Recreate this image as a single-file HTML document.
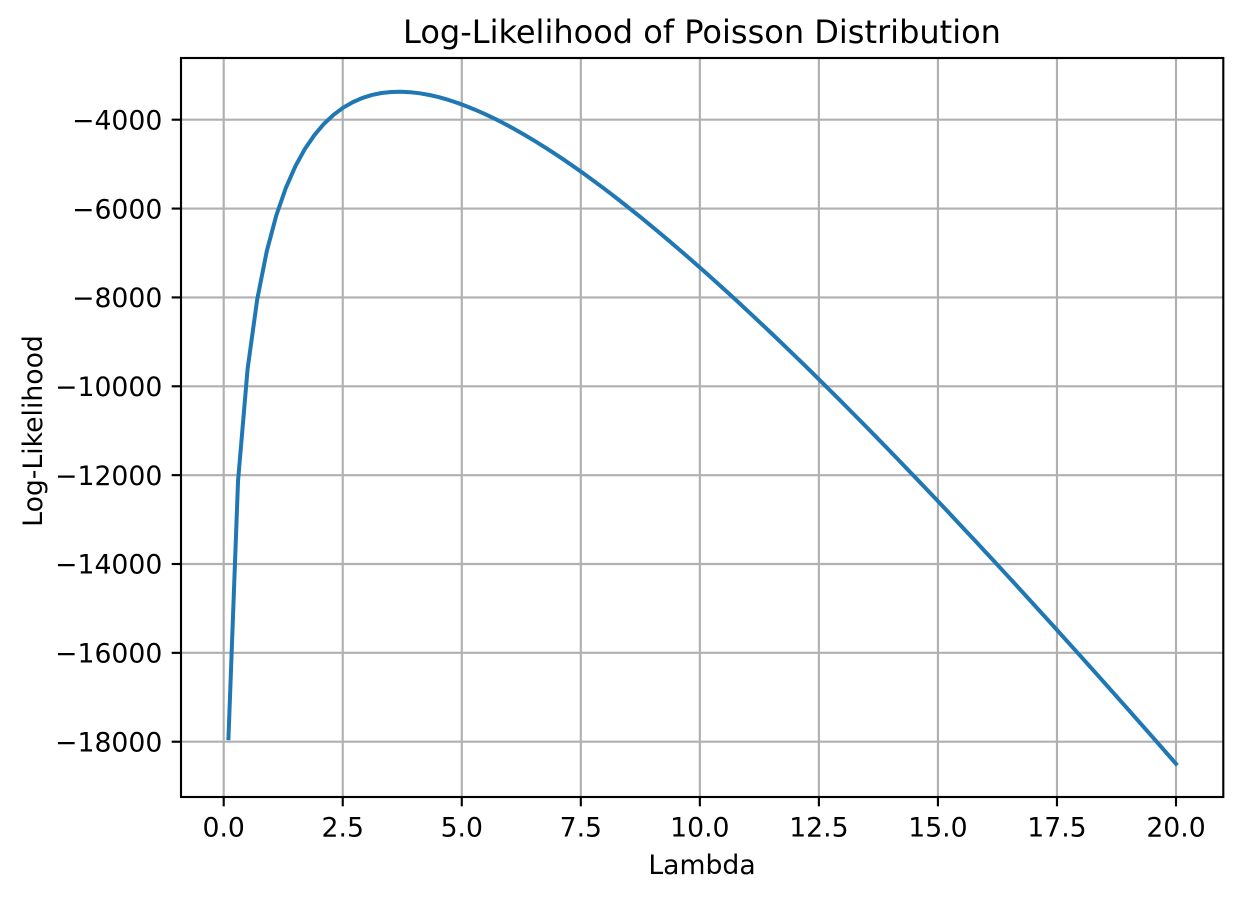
<!DOCTYPE html>
<html>
<head>
<meta charset="utf-8">
<title>Log-Likelihood of Poisson Distribution</title>
<style>
html,body{margin:0;padding:0;background:#fff;}
svg{display:block;}
text{font-family:"DejaVu Sans",sans-serif;fill:#000;}
</style>
</head>
<body>
<svg id="chart" xmlns="http://www.w3.org/2000/svg" width="1242" height="898" viewBox="0 0 1242 898">
<rect x="0" y="0" width="1242" height="898" fill="#ffffff"/>
<g id="grid"></g>
<path id="line" fill="none" stroke="#1f77b4" stroke-width="4" stroke-linejoin="round" stroke-linecap="square"/>
<rect x="181" y="58" width="1042.3" height="739" fill="none" stroke="#000" stroke-width="2.13"/>
<g id="ticks"></g>
<text x="702" y="43" font-size="32" text-anchor="middle">Log-Likelihood of Poisson Distribution</text>
<text x="702" y="874" font-size="26.67" text-anchor="middle">Lambda</text>
<text x="0" y="0" font-size="26.67" text-anchor="middle" transform="translate(42 431) rotate(-90)">Log-Likelihood</text>
</svg>
<script>
const lambdaValues = [0.1,0.301,0.502,0.703,0.904,1.105,1.306,1.507,1.708,1.909,2.11,2.311,2.512,2.713,2.914,3.115,3.316,3.517,3.718,3.919,4.12,4.321,4.522,4.723,4.924,5.125,5.326,5.527,5.728,5.929,6.13,6.331,6.532,6.733,6.934,7.135,7.336,7.537,7.738,7.939,8.14,8.341,8.542,8.743,8.944,9.145,9.346,9.547,9.748,9.949,10.151,10.352,10.553,10.754,10.955,11.156,11.357,11.558,11.759,11.96,12.161,12.362,12.563,12.764,12.965,13.166,13.367,13.568,13.769,13.97,14.171,14.372,14.573,14.774,14.975,15.176,15.377,15.578,15.779,15.98,16.181,16.382,16.583,16.784,16.985,17.186,17.387,17.588,17.789,17.99,18.191,18.392,18.593,18.794,18.995,19.196,19.397,19.598,19.799,20];
const logLikelihoodValues = [-17920,-12133,-9609,-8050,-6962,-6154,-5532,-5043,-4653,-4340,-4088,-3887,-3727,-3604,-3510,-3443,-3399,-3376,-3370,-3381,-3406,-3444,-3494,-3556,-3627,-3708,-3797,-3893,-3998,-4108,-4226,-4349,-4478,-4612,-4751,-4895,-5043,-5195,-5351,-5511,-5674,-5841,-6011,-6184,-6360,-6539,-6720,-6904,-7090,-7279,-7470,-7663,-7858,-8055,-8255,-8456,-8659,-8863,-9070,-9278,-9487,-9698,-9910,-10124,-10339,-10556,-10773,-10993,-11213,-11434,-11657,-11881,-12105,-12332,-12558,-12786,-13015,-13245,-13475,-13707,-13939,-14173,-14406,-14642,-14877,-15114,-15351,-15589,-15827,-16067,-16307,-16548,-16789,-17032,-17274,-17518,-17761,-18006,-18251,-18497];
const xTickValues = [0,2.5,5,7.5,10,12.5,15,17.5,20];
const xTickLabels = ["0.0","2.5","5.0","7.5","10.0","12.5","15.0","17.5","20.0"];
const yTickValues = [-4000,-6000,-8000,-10000,-12000,-14000,-16000,-18000];
const yTickLabels = ["\u22124000","\u22126000","\u22128000","\u221210000","\u221212000","\u221214000","\u221216000","\u221218000"];

const SVG_NS = "http://www.w3.org/2000/svg";
const xScale = v => 223.7 + v * 47.615;
const yScale = v => 119.7 + (-4000 - v) * 0.04443;
const gridGroup = document.getElementById("grid");
const tickGroup = document.getElementById("ticks");

function svgLine(parent, x1, y1, x2, y2, color) {
  const l = document.createElementNS(SVG_NS, "line");
  l.setAttribute("x1", x1);
  l.setAttribute("y1", y1);
  l.setAttribute("x2", x2);
  l.setAttribute("y2", y2);
  l.setAttribute("stroke", color);
  l.setAttribute("stroke-width", "2.13");
  parent.appendChild(l);
  return l;
}
function svgText(x, y, anchor, content) {
  const t = document.createElementNS(SVG_NS, "text");
  t.setAttribute("x", x);
  t.setAttribute("y", y);
  t.setAttribute("font-size", "26.67");
  t.setAttribute("text-anchor", anchor);
  t.textContent = content;
  tickGroup.appendChild(t);
  return t;
}

xTickValues.forEach((v, i) => {
  const x = xScale(v);
  const g = svgLine(gridGroup, x, 58, x, 797, "#b0b0b0");
  
  
  const m = svgLine(tickGroup, x, 797, x, 806.33, "#000");
  
  
  const t = svgText(x, 836.5, "middle", xTickLabels[i]);
  
  
});
yTickValues.forEach((v, i) => {
  const y = yScale(v);
  const g = svgLine(gridGroup, 181, y, 1223.3, y, "#b0b0b0");
  
  
  const m = svgLine(tickGroup, 171.67, y, 181, y, "#000");
  
  
  const t = svgText(162.3, y + 9.7, "end", yTickLabels[i]);
  
  
});
document.getElementById("line").setAttribute("d",
  lambdaValues.map((v, i) => (i ? "L" : "M") + xScale(v).toFixed(2) + " " + yScale(logLikelihoodValues[i]).toFixed(2)).join(" "));
</script>
</body>
</html>
